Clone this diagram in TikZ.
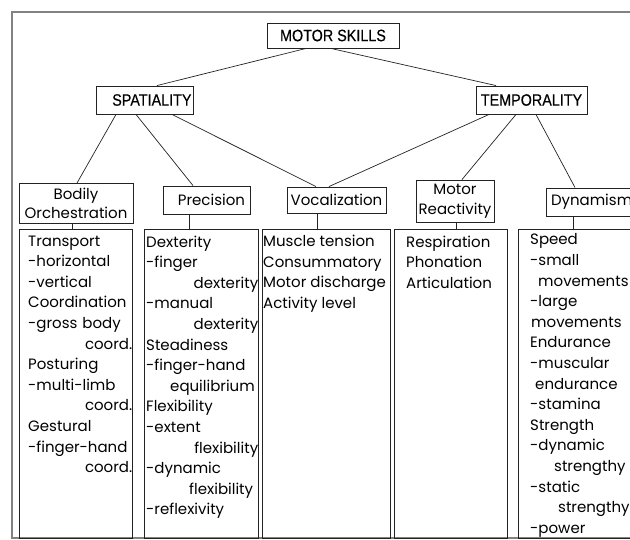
\documentclass[tikz,border=0pt]{standalone}
\usepackage{fontspec}
\setmainfont{Poppins}
\newfontfamily\headfont[FakeStretch=0.87,FakeBold=0.4]{Liberation Sans}
\usetikzlibrary{positioning}
\definecolor{framegray}{RGB}{130,130,130}
\definecolor{ink}{RGB}{35,35,35}
\newcommand{\catfont}{\fontsize{15}{19.5}\selectfont}
\newcommand{\listfont}{\fontsize{15}{20.6}\selectfont}

\begin{document}
\begin{tikzpicture}[x=1pt,y=-1pt]
        \tikzset{
        head/.style={draw=ink, line width=0.9pt, inner sep=0pt, font=\headfont\fontsize{16.5}{18}\selectfont},
        cat/.style={draw=ink, line width=0.9pt, inner sep=0pt, align=center, font=\catfont},
        listbox/.style={draw=ink, line width=0.9pt, anchor=north west, inner sep=0pt, minimum height=309pt},
        items/.style={anchor=north west, inner sep=0pt, align=left, font=\listfont},
        link/.style={draw=ink, line width=0.7pt},
        }
        \useasboundingbox (0,0) rectangle (630,539);
        \clip (0,0) rectangle (630,539);

        % Frame.
        \draw [framegray, line width=1.6pt] (12,12) rectangle (660,538);

        % Top levels.
        \path (333,35.5)  node[head, minimum width=132pt, minimum height=25pt] (ms) {MOTOR SKILLS};
        \path (144.5,100) node[head, text width=94pt, align=right, inner xsep=1.5pt, minimum height=28pt] (sp) {SPATIALITY};
        \path (531.5,100) node[head, minimum width=111pt, minimum height=28pt] (tp) {TEMPORALITY};

        % Categories.
        \path (76,203.5)  node[cat, minimum width=114pt, minimum height=40pt] (bo) {Bodily\\Orchestration};
        \path (206.5,200) node[cat, text width=77pt, align=right, inner xsep=5pt, minimum height=28pt] (pr) {Precision};
        \path (336.5,200) node[cat, minimum width=99pt, minimum height=26pt] (vo) {Vocalization};
        \path (455,201)   node[cat, minimum width=78pt, minimum height=42pt] (mr) {Motor\\Reactivity};
        \path (596,202)   node[cat, text width=90pt, align=left, inner xsep=5pt, minimum height=28pt] (dy) {Dynamism};

        % Lists.
        \path (19,229)  node[listbox, minimum width=113pt] (b1) {};
        \path (144,229) node[listbox, minimum width=114pt] (b2) {};
        \path (262,229) node[listbox, minimum width=128pt] (b3) {};
        \path (394,229) node[listbox, minimum width=113pt] (b4) {};
        \path (518,229) node[listbox, minimum width=130pt] (b5) {};

        \path (28,235.5)  node[items, text width=104pt] (t1) {Transport\\-horizontal\\-vertical\\Coordination\\-gross body\\\hspace*{\fill}coord.\\Posturing\\-multi-limb\\\hspace*{\fill}coord.\\Gestural\\-finger-hand\\\hspace*{\fill}coord.};
        \path (146,235.5) node[items, text width=112pt] (t2) {Dexterity\\-finger\\\hspace*{\fill}dexterity\\-manual\\\hspace*{\fill}dexterity\\Steadiness\\-finger-hand\\\hspace*{24pt}equilibrium\\Flexibility\\-extent\\\hspace*{\fill}flexibility\\-dynamic\\\hspace*{43pt}flexibility\\-reflexivity};
        \path (263,235)   node[items] (t3) {Muscle tension\\Consummatory\\Motor discharge\\Activity level};
        \path (406,235.5) node[items] (t4) {Respiration\\Phonation\\Articulation};
        \path (530,233.5) node[items] (t5) {Speed\\-small\\\hspace*{8pt}movements\\-large\\\hspace*{1pt}movements\\Endurance\\-muscular\\\hspace*{5pt}endurance\\-stamina\\Strength\\-dynamic\\\hspace*{24pt}strengthy\\-static\\\hspace*{28pt}strengthy\\-power};

        % Tree.
        \draw [link] ([xshift=-27pt]ms.south)   -- ([xshift=12.5pt]sp.north);
        \draw [link] ([xshift=-2pt]ms.south)    -- ([xshift=-35.5pt]tp.north);
        \draw [link] ([xshift=-28.5pt]sp.south) -- ([xshift=1pt]bo.north);
        \draw [link] ([xshift=-8.5pt]sp.south)  -- ([xshift=-13.5pt]pr.north);
        \draw [link] ([xshift=27.5pt]sp.south)  -- ([xshift=-20.5pt]vo.north);
        \draw [link] ([xshift=-42.5pt]tp.south) -- ([xshift=-7.5pt]vo.north);
        \draw [link] ([xshift=-15.5pt]tp.south) -- ([xshift=7pt]mr.north);
        \draw [link] ([xshift=4.5pt]tp.south)   -- ([xshift=-21pt]dy.north);

        \draw [link] ([xshift=-4pt]bo.south)    -- ([xshift=-4pt]bo.south |- b1.north);
        \draw [link] ([xshift=-17.5pt]pr.south) -- ([xshift=-17.5pt]pr.south |- b2.north);
        \draw [link] ([xshift=-19.5pt]vo.south) -- ([xshift=-19.5pt]vo.south |- b3.north);
        \draw [link] ([xshift=1pt]mr.south)     -- ([xshift=1pt]mr.south |- b4.north);
        \draw [link] ([xshift=-23pt]dy.south)   -- ([xshift=-23pt]dy.south |- b5.north);
      \end{tikzpicture}
\end{document}
